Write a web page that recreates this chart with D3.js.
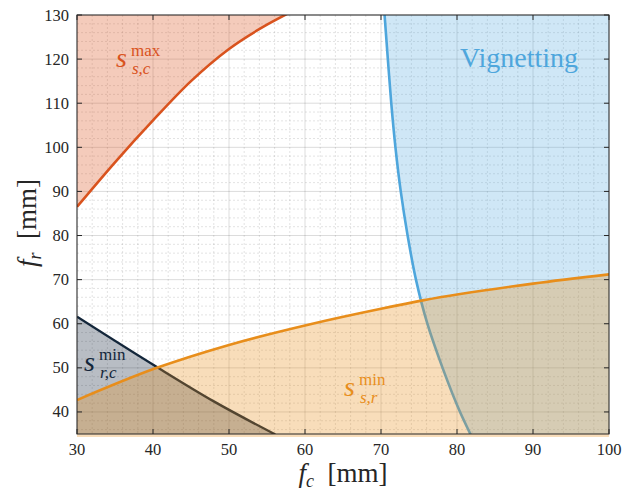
<html>
<head>
<meta charset="utf-8">
<script src="https://d3js.org/d3.v7.min.js"></script>
<style>
  body { margin: 0; background: #fff; }
  text { font-family: "Liberation Serif", "DejaVu Serif", serif; }
</style>
</head>
<body>
<svg id="chart" width="623" height="494"></svg>
<script>
// axis ticks
const xTicks = [30, 40, 50, 60, 70, 80, 90, 100];
const yTicks = [40, 50, 60, 70, 80, 90, 100, 110, 120, 130];

// s_{s,c}^{max} boundary (shaded above)
const scMaxFc = [30, 35, 40, 45, 50, 55, 57.6];
const scMaxFr = [86.5, 96.6, 106.1, 115.0, 122.3, 127.8, 130.2];

// vignetting boundary (shaded to the right), sampled along f_r
const vigFr = [130.5, 120, 110, 100, 90, 80, 70, 60, 50, 40, 34.5];
const vigFc = [70.45, 70.9, 71.35, 71.9, 72.6, 73.5, 74.6, 76.1, 78.1, 80.4, 81.9];

// s_{r,c}^{min} boundary (shaded below)
const rcMinFc = [30, 40.4, 48, 56.1];
const rcMinFr = [61.6, 50.3, 42.4, 34.9];

// s_{s,r}^{min} boundary (shaded below)
const srMinFc = [30, 40.5, 50, 60.7, 70, 75.5, 90, 100];
const srMinFr = [42.7, 50, 55.2, 59.9, 63.4, 65.3, 69.1, 71.2];

const svg = d3.select('#chart');
const L = 77, R = 609, T = 15, B = 434;

const x = d3.scaleLinear().domain([30, 100]).range([L, R]);
const y = d3.scaleLinear().domain([35, 130]).range([B, T]);

svg.append('defs').append('clipPath').attr('id', 'plotclip')
  .append('rect').attr('x', L).attr('y', T).attr('width', R - L).attr('height', B - T);

// grid
const grid = svg.append('g');
const minorX = d3.range(30, 100.01, 2).filter(v => v % 10 !== 0);
const minorY = d3.range(36, 130.01, 2).filter(v => v % 10 !== 0);
grid.selectAll('.mx').data(minorX).enter().append('line')
  .attr('x1', d => x(d)).attr('x2', d => x(d)).attr('y1', T).attr('y2', B)
  .attr('stroke', 'rgba(38,38,38,0.22)').attr('stroke-width', 0.6).attr('stroke-dasharray', '2,2');
grid.selectAll('.my').data(minorY).enter().append('line')
  .attr('y1', d => y(d)).attr('y2', d => y(d)).attr('x1', L).attr('x2', R)
  .attr('stroke', 'rgba(38,38,38,0.22)').attr('stroke-width', 0.6).attr('stroke-dasharray', '2,2');
grid.selectAll('.gx').data(xTicks).enter().append('line')
  .attr('x1', d => x(d)).attr('x2', d => x(d)).attr('y1', T).attr('y2', B)
  .attr('stroke', 'rgba(38,38,38,0.16)').attr('stroke-width', 1);
grid.selectAll('.gy').data(yTicks).enter().append('line')
  .attr('y1', d => y(d)).attr('y2', d => y(d)).attr('x1', L).attr('x2', R)
  .attr('stroke', 'rgba(38,38,38,0.16)').attr('stroke-width', 1);

const plot = svg.append('g').attr('clip-path', 'url(#plotclip)');

function pts(a, b) { return a.map((v, i) => [v, b[i]]); }
const lineX = d3.line().x(d => x(d[0])).y(d => y(d[1])).curve(d3.curveMonotoneX);
const lineY = d3.line().x(d => x(d[0])).y(d => y(d[1])).curve(d3.curveMonotoneY);

// red: s_sc max
const red = '#d9531e';
const scPts = pts(scMaxFc, scMaxFr);
plot.append('path')
  .attr('d', lineX(scPts) + 'L' + x(30) + ',' + y(131) + 'Z')
  .attr('fill', red).attr('fill-opacity', 0.3);
plot.append('path').attr('d', lineX(scPts))
  .attr('fill', 'none').attr('stroke', red).attr('stroke-width', 2.6);

// blue: vignetting
const blue = '#4ea6dc';
const vigPts = pts(vigFc, vigFr);
plot.append('path')
  .attr('d', lineY(vigPts) + 'L' + x(101) + ',' + y(34) + 'L' + x(101) + ',' + y(131) + 'Z')
  .attr('fill', blue).attr('fill-opacity', 0.27);
plot.append('path').attr('d', lineY(vigPts))
  .attr('fill', 'none').attr('stroke', blue).attr('stroke-width', 2.6);

// navy: s_rc min
const navy = '#13263a';
const rcPts = pts(rcMinFc, rcMinFr);
plot.append('path')
  .attr('d', lineX(rcPts) + 'L' + x(30) + ',' + y(34) + 'Z')
  .attr('fill', navy).attr('fill-opacity', 0.3);
plot.append('path').attr('d', lineX(rcPts))
  .attr('fill', 'none').attr('stroke', navy).attr('stroke-width', 2.4);

// orange: s_sr min (fill runs a touch below the axis, as in the original)
const orange = '#e88e1c';
const srPts = pts(srMinFc, srMinFr);
svg.append('path')
  .attr('d', lineX(srPts) + 'L' + x(100) + ',' + y(34.3) + 'L' + x(30) + ',' + y(34.3) + 'Z')
  .attr('fill', orange).attr('fill-opacity', 0.3);
plot.append('path').attr('d', lineX(srPts))
  .attr('fill', 'none').attr('stroke', orange).attr('stroke-width', 2.6);

// frame and inward ticks
const axc = '#262626';
svg.append('rect').attr('x', L).attr('y', T).attr('width', R - L).attr('height', B - T)
  .attr('fill', 'none').attr('stroke', axc).attr('stroke-width', 1);
const tk = svg.append('g').attr('stroke', axc).attr('stroke-width', 1);
xTicks.forEach(v => {
  tk.append('line').attr('x1', x(v)).attr('x2', x(v)).attr('y1', B).attr('y2', B - 5);
  tk.append('line').attr('x1', x(v)).attr('x2', x(v)).attr('y1', T).attr('y2', T + 5);
});
yTicks.forEach(v => {
  tk.append('line').attr('y1', y(v)).attr('y2', y(v)).attr('x1', L).attr('x2', L + 5);
  tk.append('line').attr('y1', y(v)).attr('y2', y(v)).attr('x1', R).attr('x2', R - 5);
});

svg.append('g').selectAll('text').data(xTicks).enter().append('text')
  .attr('x', d => x(d)).attr('y', 455).attr('text-anchor', 'middle')
  .style('font-size', '16.5px').attr('fill', axc).text(d => d);
svg.append('g').selectAll('text').data(yTicks).enter().append('text')
  .attr('x', 69).attr('y', d => y(d) + 5.5).attr('text-anchor', 'end')
  .style('font-size', '16.5px').attr('fill', axc).text(d => d);

// axis labels
const xl = svg.append('text').attr('x', 343).attr('y', 482).attr('text-anchor', 'middle')
  .style('font-size', '27px').attr('fill', axc);
xl.append('tspan').style('font-style', 'italic').text('f');
xl.append('tspan').style('font-style', 'italic').style('font-size', '18px').attr('dy', 5).text('c');
xl.append('tspan').attr('dy', -5).text('\u2002[mm]');

const yl = svg.append('text').attr('transform', 'translate(36,223) rotate(-90)')
  .attr('text-anchor', 'middle').style('font-size', '27px').attr('fill', axc);
yl.append('tspan').style('font-style', 'italic').text('f');
yl.append('tspan').style('font-style', 'italic').style('font-size', '18px').attr('dy', 5).text('r');
yl.append('tspan').attr('dy', -5).text('\u2002[mm]');

// region labels: s with stacked superscript / subscript
function regionLabel(sx, sy, sup, sub, col) {
  svg.append('text').attr('x', sx).attr('y', sy).style('font-size', '28px')
    .style('font-style', 'italic').attr('fill', col).text('s');
  svg.append('text').attr('x', sx + 15).attr('y', sy - 11).style('font-size', '17px')
    .attr('fill', col).text(sup);
  svg.append('text').attr('x', sx + 16).attr('y', sy + 7).style('font-size', '17px')
    .style('font-style', 'italic').attr('fill', col).text(sub);
}
regionLabel(116, 67, 'max', 's,c', red);
regionLabel(84, 371, 'min', 'r,c', navy);
regionLabel(344, 396, 'min', 's,r', orange);

svg.append('text').attr('x', 519).attr('y', 67).attr('text-anchor', 'middle')
  .style('font-size', '28px').attr('fill', blue).text('Vignetting');
</script>
</body>
</html>
